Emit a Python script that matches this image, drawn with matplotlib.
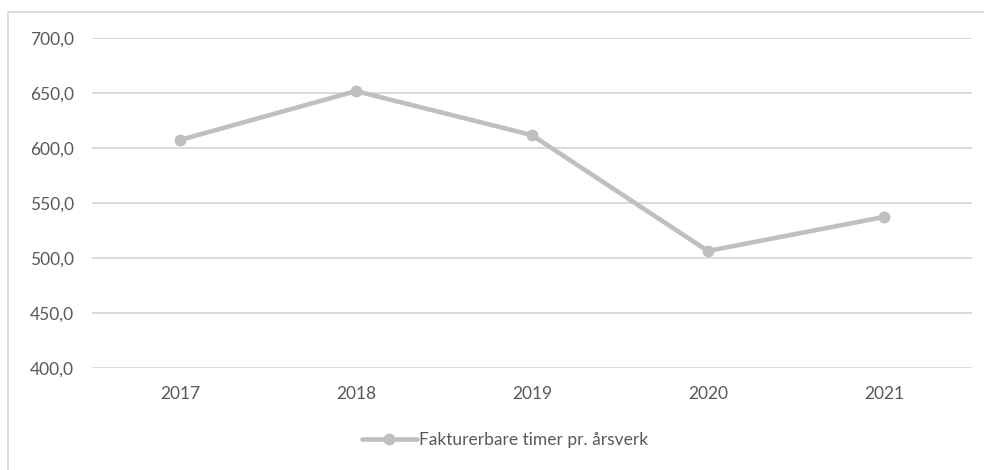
import matplotlib.pyplot as plt
from matplotlib.patches import Rectangle

years = ['2017', '2018', '2019', '2020', '2021']
timer = [607.3, 651.8, 611.8, 506.4, 537.3]
yticks = [400, 450, 500, 550, 600, 650, 700]
series_name = 'Fakturerbare timer pr. årsverk'

plt.rcParams['font.family'] = ['Lato', 'DejaVu Sans']

fig = plt.figure(figsize=(9.84, 4.70), dpi=100)
ax = fig.add_axes([0.0935, 0.217, 0.894, 0.702])

x = range(len(years))
ax.plot(x, timer, color='#BFBFBF', linewidth=3.3, marker='o', markersize=7.5,
        solid_capstyle='round', label=series_name, zorder=3)

ax.set_xlim(-0.5, len(years) - 0.5)
ax.set_ylim(400, 700)
ax.set_yticks(yticks)
ax.set_yticklabels([f'{v:.1f}'.replace('.', ',') for v in yticks])
ax.set_xticks(list(x))
ax.set_xticklabels(years)
ax.tick_params(axis='both', length=0, labelsize=12.5, labelcolor='#595959')
ax.tick_params(axis='y', pad=13)
ax.tick_params(axis='x', pad=13)

ax.grid(axis='y', color='#D9D9D9', linewidth=1.3)
ax.set_axisbelow(True)
for s in ax.spines.values():
    s.set_visible(False)

# chart frame
fig.patches.append(Rectangle((8 / 984, -0.1), 2, (470 - 12) / 470 + 0.1,
                             transform=fig.transFigure, fill=False,
                             edgecolor='#D9D9D9', linewidth=1.3))

leg = fig.legend(loc='center', bbox_to_anchor=(0.513, 0.064), frameon=False,
                 fontsize=12.5, handlelength=3.2, handletextpad=0.1)
for t in leg.get_texts():
    t.set_color('#595959')

fig.savefig('out.png', dpi=100)
